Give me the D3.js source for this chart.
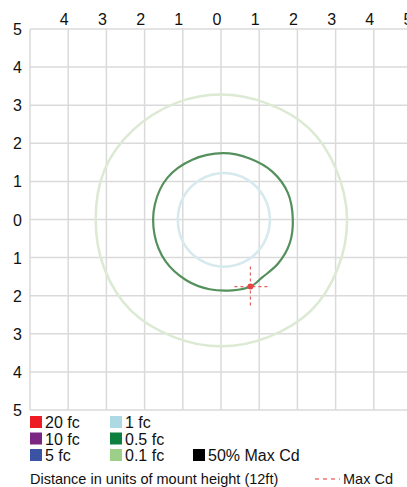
<!DOCTYPE html>
<html>
<head>
    <meta charset="utf-8">
    <title>Isofootcandle</title>
    <script src="https://d3js.org/d3.v7.min.js"></script>
    <style type="text/css">
        body { margin: 0; background: #fff; }
        text { font-family: "Liberation Sans", Arial, sans-serif; fill: #111; }
    </style>
</head>
<body>
<script type="text/javascript">
// tick values (labels shown as absolute distance)
var xTicks = [-4, -3, -2, -1, 0, 1, 2, 3, 4, 5];
var yTicks = [5, 4, 3, 2, 1, 0, -1, -2, -3, -4, -5];
var gridVals = [-5, -4, -3, -2, -1, 0, 1, 2, 3, 4, 5];

// contour outlines, in mount-height units
var contour01 = [[0, 3.28], [1.2, 3.05], [2.3, 2.4], [3.0, 1.35], [3.3, 0], [3.05, -1.3], [2.35, -2.4],
    [1.25, -3.08], [0, -3.33], [-1.25, -3.08], [-2.35, -2.4], [-3.05, -1.3], [-3.28, 0], [-3.05, 1.3],
    [-2.3, 2.35], [-1.2, 3.05]];
var contour05 = [[0.05, 1.74], [0.75, 1.6], [1.35, 1.25], [1.75, 0.7], [1.88, 0], [1.8, -0.62],
    [1.5, -1.15], [1.08, -1.52], [0.78, -1.76], [0.3, -1.86], [-0.3, -1.83], [-0.9, -1.6],
    [-1.45, -1.1], [-1.74, -0.4], [-1.73, 0.4], [-1.4, 1.1], [-0.75, 1.57]];
var contour1 = [[0.08, 1.22], [0.7, 1.04], [1.12, 0.6], [1.28, 0], [1.12, -0.62], [0.7, -1.06],
    [0.08, -1.24], [-0.55, -1.06], [-0.98, -0.62], [-1.13, 0], [-0.98, 0.6], [-0.55, 1.04]];
var maxCd = [0.77, -1.76];

var legendItems = [
    { label: "20 fc", color: "#ed1c24", col: 0, row: 0 },
    { label: "10 fc", color: "#7b2682", col: 0, row: 1 },
    { label: "5 fc", color: "#3a53a4", col: 0, row: 2 },
    { label: "1 fc", color: "#acd9e4", col: 1, row: 0 },
    { label: "0.5 fc", color: "#0d8040", col: 1, row: 1 },
    { label: "0.1 fc", color: "#9ecf88", col: 1, row: 2 },
    { label: "50% Max Cd", color: "#000000", col: 2, row: 2 }
];

var W = 407, H = 487;
var svg = d3.select("body").append("svg")
    .attr("width", W)
    .attr("height", H);

var x = d3.scaleLinear().domain([-5, 5]).range([30, 412]);
var y = d3.scaleLinear().domain([-5, 5]).range([410, 29]);

// grid
var grid = svg.append("g");
grid.selectAll(".vg").data(gridVals).enter().append("line")
    .attr("x1", function (d) { return x(d); })
    .attr("x2", function (d) { return x(d); })
    .attr("y1", y(5)).attr("y2", y(-5))
    .attr("stroke", "#dadada").attr("stroke-width", 1.5);
grid.selectAll(".hg").data(gridVals).enter().append("line")
    .attr("y1", function (d) { return y(d); })
    .attr("y2", function (d) { return y(d); })
    .attr("x1", x(-5)).attr("x2", x(5))
    .attr("stroke", "#dadada").attr("stroke-width", 1.5);

// axes labels
svg.append("g").selectAll("text").data(xTicks).enter().append("text")
    .attr("x", function (d) { return x(d) - 4; })
    .attr("y", 25)
    .attr("text-anchor", "middle")
    .attr("font-size", "16px")
    .text(function (d) { return Math.abs(d); });
svg.append("g").selectAll("text").data(yTicks).enter().append("text")
    .attr("x", 22)
    .attr("y", function (d) { return y(d) + 6; })
    .attr("text-anchor", "end")
    .attr("font-size", "16px")
    .text(function (d) { return Math.abs(d); });

// contours
var line = d3.line()
    .x(function (d) { return x(d[0]); })
    .y(function (d) { return y(d[1]); })
    .curve(d3.curveCatmullRomClosed.alpha(0.5));

svg.append("path").datum(contour01)
    .attr("d", line).attr("fill", "none")
    .attr("stroke", "#dce9d3").attr("stroke-width", 2.5);
svg.append("path").datum(contour1)
    .attr("d", line).attr("fill", "none")
    .attr("stroke", "#d5e9ef").attr("stroke-width", 2.5);
svg.append("path").datum(contour05)
    .attr("d", line).attr("fill", "none")
    .attr("stroke", "#54905c").attr("stroke-width", 2.2);

// max cd marker
svg.append("line")
    .attr("x1", x(maxCd[0])).attr("x2", x(maxCd[0]))
    .attr("y1", y(maxCd[1]) - 20).attr("y2", y(maxCd[1]) + 20)
    .attr("stroke", "#e36060").attr("stroke-width", 1.2).attr("stroke-dasharray", "3,3");
svg.append("line")
    .attr("x1", x(maxCd[0]) - 16).attr("x2", x(maxCd[0]) + 20)
    .attr("y1", y(maxCd[1])).attr("y2", y(maxCd[1]))
    .attr("stroke", "#e36060").attr("stroke-width", 1.2).attr("stroke-dasharray", "3,3");
svg.append("circle")
    .attr("cx", x(maxCd[0])).attr("cy", y(maxCd[1]))
    .attr("r", 3).attr("fill", "#e64545");

// legend
var legend = svg.append("g");
var colX = [30, 110, 193], rowY = [416, 432.5, 449];
var items = legend.selectAll("g").data(legendItems).enter().append("g")
    .attr("transform", function (d) { return "translate(" + colX[d.col] + "," + rowY[d.row] + ")"; });
items.append("rect")
    .attr("width", 12).attr("height", 12)
    .attr("fill", function (d) { return d.color; });
items.append("text")
    .attr("x", 15).attr("y", 12)
    .attr("font-size", "16px")
    .text(function (d) { return d.label; });

svg.append("text")
    .attr("x", 30).attr("y", 484)
    .attr("font-size", "14.5px")
    .text("Distance in units of mount height (12ft)");
svg.append("line")
    .attr("x1", 315).attr("x2", 340)
    .attr("y1", 479).attr("y2", 479)
    .attr("stroke", "#e53030").attr("stroke-width", 1.2).attr("stroke-dasharray", "4,4");
svg.append("text")
    .attr("x", 343).attr("y", 484)
    .attr("font-size", "14.5px")
    .text("Max Cd");
</script>
</body>
</html>
